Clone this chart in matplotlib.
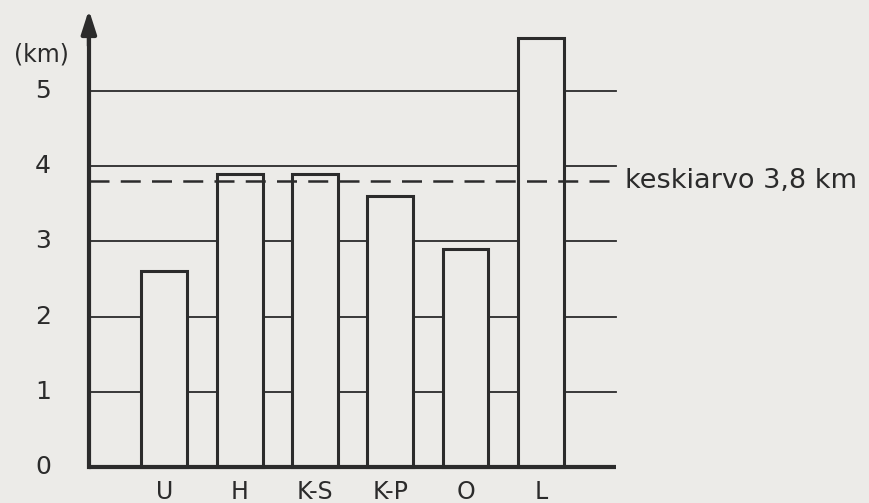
import numpy as np
import matplotlib.pyplot as plt

categories = ['U', 'H', 'K-S', 'K-P', 'O', 'L']
lengths_km = [2.6, 3.9, 3.9, 3.6, 2.9, 5.7]
mean_km = 3.8
mean_label = 'keskiarvo 3,8 km'
y_ticks = [0, 1, 2, 3, 4, 5]
y_unit = '(km)'

paper = '#ecebe8'
ink = '#2b2b2b'

fig = plt.figure(figsize=(8.7, 5.03), dpi=100, facecolor=paper)
ax = fig.add_axes([0, 0, 1, 1])
ax.set_facecolor(paper)
ax.set_xlim(-1.18, 10.37)
ax.set_ylim(-0.48, 6.21)
ax.axis('off')

x = np.arange(1, len(categories) + 1)
x_end = len(categories) + 1

# grid lines behind the bars
for t in y_ticks[1:]:
    ax.plot([0, x_end], [t, t], color=ink, lw=1.3, zorder=1)

ax.bar(x, lengths_km, width=0.61, color=paper, edgecolor=ink, linewidth=2.2, zorder=2)

# mean line
ax.plot([0, x_end], [mean_km, mean_km], color=ink, lw=1.8, ls=(0, (8, 4.5)), zorder=3)
ax.text(x_end + 0.12, mean_km, mean_label, fontsize=19.5, color=ink, va='center', ha='left')

# axes
ax.plot([0, x_end], [0, 0], color=ink, lw=3, solid_capstyle='butt', zorder=4)
ax.plot([0, 0], [0, 5.75], color=ink, lw=3, zorder=4)
ax.annotate('', xy=(0, 6.08), xytext=(0, 5.6),
            arrowprops=dict(arrowstyle='-|>,head_length=1.4,head_width=0.45',
                            color=ink, lw=3, shrinkA=0, shrinkB=0), zorder=5)

for t in y_ticks:
    ax.text(-0.61, t, str(t), fontsize=18, color=ink, ha='center', va='center')
ax.text(-0.63, 5.48, y_unit, fontsize=17, color=ink, ha='center', va='center')

for xi, c in zip(x, categories):
    ax.text(xi, -0.335, c, fontsize=17, color=ink, ha='center', va='center')

fig.savefig('out.png', dpi=100, facecolor=paper)
